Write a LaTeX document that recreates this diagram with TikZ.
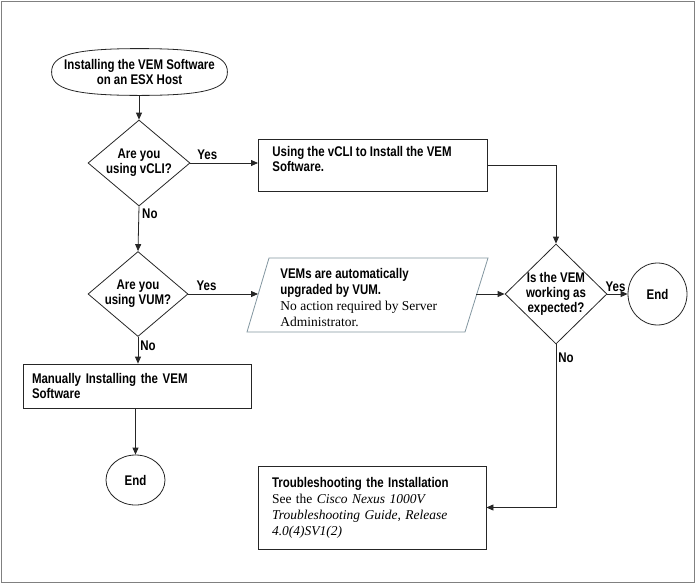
\documentclass[tikz,border=0pt]{standalone}
\usepackage{fontspec}
\setmainfont{Liberation Serif}
\newfontface\cond{Liberation Sans Bold}[FakeStretch=0.82]
\usetikzlibrary{shapes.geometric,arrows.meta}
\newcommand\tbox[3]{\parbox[t][#2][t]{#1}{\raggedright #3}}
\begin{document}
\begin{tikzpicture}[x=1pt,y=-1pt,
  line width=0.8pt,
  cbf/.style={font=\cond\fontsize{14}{15}\selectfont},
  conn/.style={draw=black!85, -{Triangle[length=7pt,width=6pt]}},
  term/.style={ellipse, draw=black!85, inner sep=0pt, cbf, align=center},
  decision/.style={diamond, draw=black!85, inner sep=0pt, cbf, align=center},
  proc/.style={rectangle, draw=black!85, inner sep=0pt},
  lbl/.style={cbf, inner sep=1pt},
  pargray/.style={draw={rgb,255:red,130;green,150;blue,160}, line width=0.8pt}
]
\useasboundingbox (0,0) rectangle (696,584);
\draw[gray, line width=1.5pt] (1.5,1.5) rectangle (694.5,582.5);

\node[rectangle, inner sep=0pt, cbf, align=center, minimum width=175, minimum height=46] (start) at (139.5,72) {Installing the VEM Software\\on an ESX Host};
\draw[black!85] (start.east) .. controls ([yshift=17pt]start.east) and ([xshift=66pt]start.north) .. (start.north)
  .. controls ([xshift=-66pt]start.north) and ([yshift=17pt]start.west) .. (start.west)
  .. controls ([yshift=-17pt]start.west) and ([xshift=-66pt]start.south) .. (start.south)
  .. controls ([xshift=66pt]start.south) and ([yshift=-17pt]start.east) .. (start.east) -- cycle;
\node[decision, shape aspect=1.2, minimum width=102, minimum height=86] (d1) at (139,163) {Are you\\using vCLI?};
\node[proc, cbf, anchor=north west, minimum width=229, minimum height=52, inner xsep=14pt, inner ysep=7pt] (b1) at (258,139) {\tbox{201pt}{38pt}{Using the vCLI to Install the VEM\\Software.}};

\node[decision, shape aspect=1.2, minimum width=100, minimum height=85] (d2) at (138,294) {Are you\\using VUM?};

\draw[pargray] (247,332) -- (269,258) -- (488,258) -- (465,332) -- cycle;
\coordinate (pin) at (258,294);
\coordinate (pout) at (476,294);
\node[anchor=north west, inner sep=0pt, align=left, font=\fontsize{13.5}{16}\selectfont] (vum) at (280,268)
  {{\cond\fontsize{14}{16}\selectfont VEMs are automatically}\\{\cond\fontsize{14}{16}\selectfont upgraded by VUM.}\\No action required by Server\\Administrator.};

\node[decision, inner sep=-2pt, minimum width=102, minimum height=100] (d3) at (556,294) {Is the VEM\\working as\\expected?};
\node[term, minimum width=59, minimum height=62] (endR) at (657.5,294) {End};

\node[proc, cbf, minimum width=228, minimum height=44, inner xsep=9pt, text width=210pt, align=left] (man) at (137,386) {Manually Installing the VEM\\Software};
\node[term, minimum width=59, minimum height=50] (endL) at (135.5,480) {End};

\node[proc, minimum width=228, minimum height=83, inner xsep=14pt, text width=200pt, align=left, font=\fontsize{13.5}{16}\selectfont] (tr) at (372,507.5)
  {{\cond\fontsize{14}{16}\selectfont Troubleshooting the Installation}\\See the \textit{Cisco Nexus 1000V}\\\textit{Troubleshooting Guide, Release}\\\textit{4.0(4)SV1(2)}};

\draw[conn] (d1.north |- start.south) -- (d1.north);
\draw[conn] (d1.east) -- node[lbl, pos=0.25, above=2pt] {Yes} (d1.east -| b1.west);
\draw[conn] (d1.south) -- node[lbl, pos=0.17, right=2pt] {No} (d2.north);
\draw[conn] (b1.east) -| (d3.north);
\draw[conn] (d2.east) -- node[lbl, pos=0.26, above=2pt] {Yes} (pin);
\draw[conn] (pout) -- (d3.west);
\draw[conn] (d3.east) -- node[lbl, pos=0.4, above=1pt] {Yes} (endR.west);
\draw[conn] (d3.south) |- node[lbl, pos=0.04, right=1pt] {No} (tr.east);
\draw[conn] (d2.south) -- node[lbl, pos=0.33, right=1pt] {No} (d2.south |- man.north);
\draw[conn] (endL.north |- man.south) -- (endL.north);
\end{tikzpicture}
\end{document}
